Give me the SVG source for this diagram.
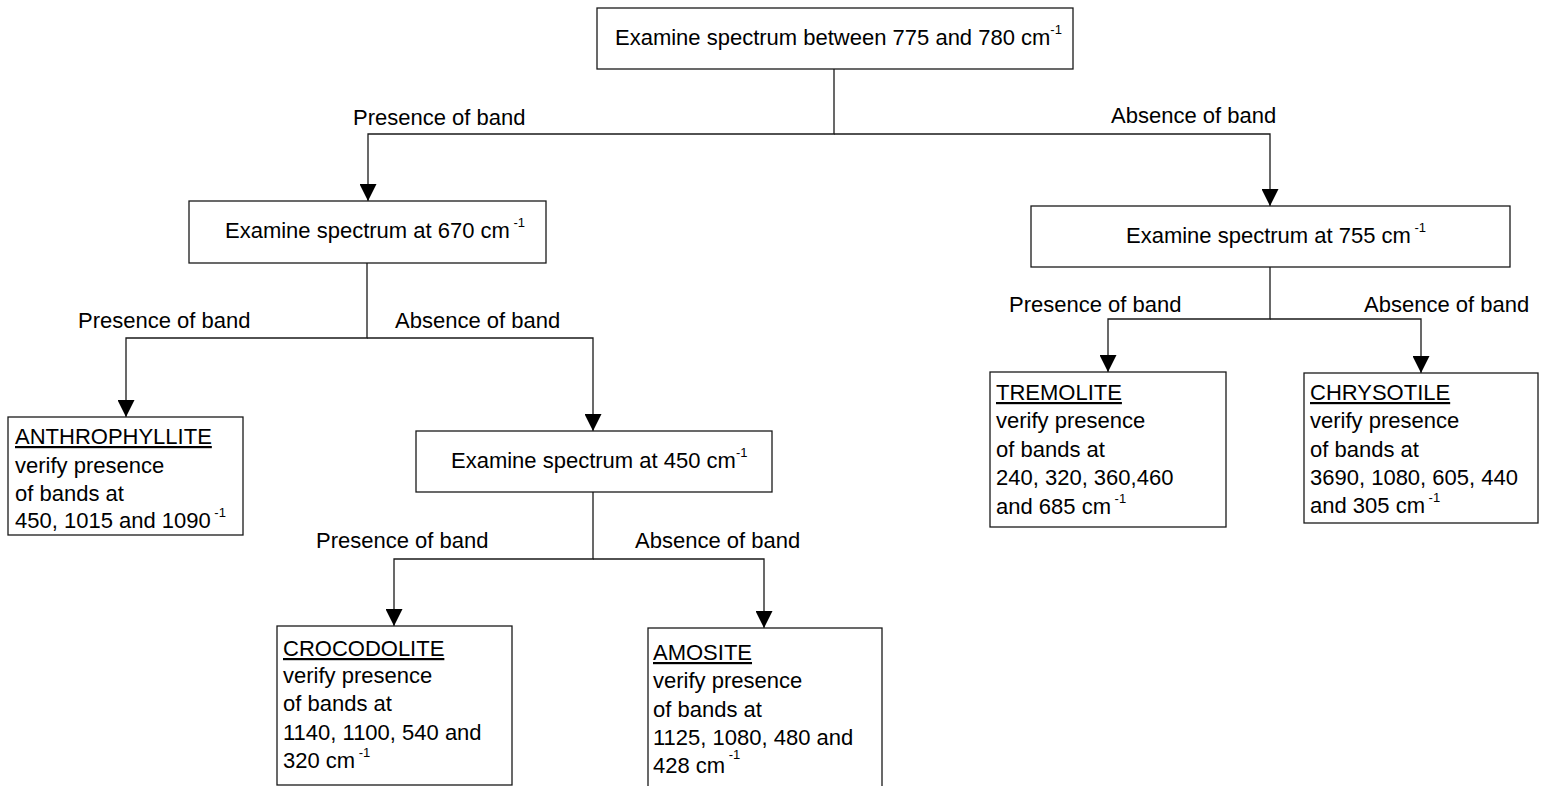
<svg xmlns="http://www.w3.org/2000/svg" width="1541" height="786" viewBox="0 0 1541 786">
<defs>
<style>
text{font-family:"Liberation Sans",Arial,sans-serif;font-size:22px;fill:#000}
.sup{font-size:13px}
.box{fill:#fff;stroke:#1a1a1a;stroke-width:1.3}
.conn{fill:none;stroke:#1a1a1a;stroke-width:1.3}
.u{text-decoration:underline}
</style>
<marker id="ah" viewBox="0 0 17 17" refX="17" refY="8.5" markerWidth="17" markerHeight="17" markerUnits="userSpaceOnUse" orient="auto">
<path d="M0,0 L17,8.5 L0,17 z" fill="#000"/>
</marker>
</defs>
<rect width="1541" height="786" fill="#fff"/>

<g id="connectors">
<path class="conn" d="M834,69 V134 H368 V201" marker-end="url(#ah)"/>
<path class="conn" d="M834,134 H1270 V206" marker-end="url(#ah)"/>
<path class="conn" d="M367,263 V338 H126 V417" marker-end="url(#ah)"/>
<path class="conn" d="M367,338 H593 V431" marker-end="url(#ah)"/>
<path class="conn" d="M593,492 V559 H394 V626" marker-end="url(#ah)"/>
<path class="conn" d="M593,559 H764 V628" marker-end="url(#ah)"/>
<path class="conn" d="M1270,267 V319 H1108 V372" marker-end="url(#ah)"/>
<path class="conn" d="M1270,319 H1421 V373" marker-end="url(#ah)"/>
</g>

<g id="labels">
<text x="353" y="125">Presence of band</text>
<text x="1111" y="123">Absence of band</text>
<text x="78" y="328">Presence of band</text>
<text x="395" y="328">Absence of band</text>
<text x="1009" y="312">Presence of band</text>
<text x="1364" y="312">Absence of band</text>
<text x="316" y="548">Presence of band</text>
<text x="635" y="548">Absence of band</text>
</g>

<g id="n775">
<rect class="box" x="597" y="8" width="476" height="61"/>
<text x="615" y="45">Examine spectrum between 775 and 780 cm<tspan class="sup" dy="-11">-1</tspan></text>
</g>

<g id="n670">
<rect class="box" x="189" y="201" width="357" height="62"/>
<text x="225" y="238">Examine spectrum at 670 cm<tspan class="sup" dy="-11"> -1</tspan></text>
</g>

<g id="n755">
<rect class="box" x="1031" y="206" width="479" height="61"/>
<text x="1126" y="243">Examine spectrum at 755 cm<tspan class="sup" dy="-11"> -1</tspan></text>
</g>

<g id="n450">
<rect class="box" x="416" y="431" width="356" height="61"/>
<text x="451" y="468">Examine spectrum at 450 cm<tspan class="sup" dy="-11">-1</tspan></text>
</g>

<g id="anthrophyllite">
<rect class="box" x="8" y="417" width="235" height="118"/>
<text x="15" y="444" class="u">ANTHROPHYLLITE</text>
<text x="15" y="473">verify presence</text>
<text x="15" y="501">of bands at</text>
<text x="15" y="528">450, 1015 and 1090<tspan class="sup" dy="-11"> -1</tspan></text>
</g>

<g id="crocodolite">
<rect class="box" x="277" y="626" width="235" height="159"/>
<text x="283" y="656" class="u">CROCODOLITE</text>
<text x="283" y="683">verify presence</text>
<text x="283" y="711">of bands at</text>
<text x="283" y="740">1140, 1100, 540 and</text>
<text x="283" y="768">320 cm<tspan class="sup" dy="-11"> -1</tspan></text>
</g>

<g id="amosite">
<rect class="box" x="648" y="628" width="234" height="180"/>
<text x="653" y="660" class="u">AMOSITE</text>
<text x="653" y="688">verify presence</text>
<text x="653" y="717">of bands at</text>
<text x="653" y="745">1125, 1080, 480 and</text>
<text x="653" y="773">428 cm<tspan class="sup" dy="-14"> -1</tspan></text>
</g>

<g id="tremolite">
<rect class="box" x="990" y="372" width="236" height="155"/>
<text x="996" y="400" class="u">TREMOLITE</text>
<text x="996" y="428">verify presence</text>
<text x="996" y="457">of bands at</text>
<text x="996" y="485">240, 320, 360,460</text>
<text x="996" y="514">and 685 cm<tspan class="sup" dy="-11"> -1</tspan></text>
</g>

<g id="chrysotile">
<rect class="box" x="1304" y="373" width="234" height="150"/>
<text x="1310" y="400" class="u">CHRYSOTILE</text>
<text x="1310" y="428">verify presence</text>
<text x="1310" y="457">of bands at</text>
<text x="1310" y="485">3690, 1080, 605, 440</text>
<text x="1310" y="513">and 305 cm<tspan class="sup" dy="-11"> -1</tspan></text>
</g>
</svg>
